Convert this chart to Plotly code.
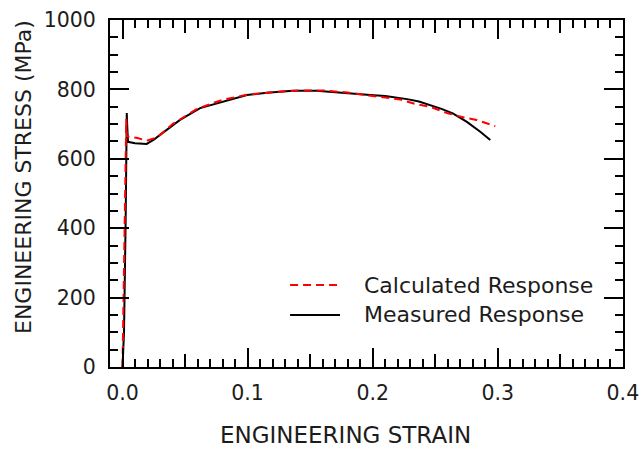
import plotly.graph_objects as go

# ---- data ----
measured_strain = [0.0, 0.0006, 0.0012, 0.0025, 0.0034, 0.0037, 0.0044, 0.010, 0.0193, 0.025,
                   0.030, 0.046, 0.062, 0.0835, 0.0995, 0.1155, 0.136, 0.155, 0.174, 0.198,
                   0.21, 0.22, 0.2275, 0.237, 0.246, 0.255, 0.264, 0.275, 0.286, 0.294]
measured_stress = [0, 85, 100, 420, 732, 700, 649, 645, 643, 655,
                   669, 712, 746, 769, 784, 790, 796, 796, 790, 784,
                   781, 777, 772, 765, 755, 744, 731, 707, 678, 654]

calc_strain = [0.0, 0.0025, 0.003, 0.0035, 0.006, 0.012, 0.019, 0.028, 0.040, 0.06,
               0.08, 0.10, 0.12, 0.14, 0.16, 0.18, 0.20, 0.222, 0.235, 0.246, 0.26,
               0.273, 0.283, 0.298]
calc_stress = [0, 700, 715, 665, 664, 660, 652, 662, 700, 745,
               770, 785, 792, 797, 797, 791, 781, 771, 757, 750, 731,
               719, 712, 694]

x_tickvals = [0.0, 0.1, 0.2, 0.3, 0.4]
x_ticktext = ["0.0", "0.1", "0.2", "0.3", "0.4"]
x_midticks = [0.05, 0.15, 0.25, 0.35]
y_tickvals = [0, 200, 400, 600, 800, 1000]
y_ticktext = ["0", "200", "400", "600", "800", "1000"]

legend_names = ["Calculated Response", "Measured Response"]
x_title = "ENGINEERING STRAIN"
y_title = "ENGINEERING STRESS (MPa)"

FONT = "DejaVu Sans, Liberation Sans, Arial, sans-serif"
TXT = "#1c1c1c"

fig = go.Figure()
fig.add_trace(go.Scatter(x=measured_strain, y=measured_stress, mode="lines",
                         line=dict(color="black", width=2), name=legend_names[1],
                         showlegend=False))
fig.add_trace(go.Scatter(x=calc_strain, y=calc_stress, mode="lines", xaxis="x2", yaxis="y",
                         line=dict(color="#ff0000", width=2, dash="8px,5px"),
                         name=legend_names[0], showlegend=False))

axis_common = dict(showgrid=False, zeroline=False, showline=True, linecolor="black",
                   linewidth=2, mirror="ticks", ticks="inside", tickcolor="black",
                   tickwidth=2, ticklen=19, ticklabeloverflow="allow", automargin=False,
                   tickfont=dict(family=FONT, size=20.5, color=TXT))

fig.update_layout(
    width=639, height=449,
    margin=dict(l=110, r=16, t=20, b=82),
    paper_bgcolor="white", plot_bgcolor="white",
    xaxis=dict(range=[-0.01, 0.4001], tickvals=x_tickvals, ticktext=x_ticktext,
               minor=dict(dtick=0.01, tick0=0, ticks="inside", ticklen=8,
                          tickwidth=2, tickcolor="black"),
               ticklabelstandoff=6, **axis_common),
    xaxis2=dict(range=[-0.01, 0.4001], overlaying="x", anchor="y", side="bottom",
                showgrid=False, zeroline=False, showline=False, mirror="ticks",
                ticks="inside", tickvals=x_midticks, ticklen=13, tickwidth=2,
                tickcolor="black", showticklabels=False, automargin=False),
    yaxis=dict(range=[0, 1000], tickvals=y_tickvals, ticktext=y_ticktext,
               minor=dict(dtick=50, tick0=0, ticks="inside", ticklen=8,
                          tickwidth=2, tickcolor="black"),
               ticklabelstandoff=8, **axis_common),
    showlegend=False,
)

# axis titles
fig.add_annotation(text=x_title, xref="paper", yref="paper", x=0.46, y=-0.196,
                   xanchor="center", yanchor="middle", showarrow=False,
                   font=dict(family=FONT, size=23, color=TXT))
fig.add_annotation(text=y_title, xref="paper", yref="paper", x=-0.1676, y=0.5476,
                   xanchor="center", yanchor="middle", showarrow=False, textangle=-90,
                   font=dict(family=FONT, size=22, color=TXT))

# legend (manual)
leg_y = [0.2363, 0.1499]
leg_styles = [dict(color="#ff0000", width=2, dash="8px,5px"), dict(color="black", width=2)]
for name, yy, st in zip(legend_names, leg_y, leg_styles):
    fig.add_shape(type="line", xref="paper", yref="paper", x0=0.351, x1=0.4484,
                  y0=yy, y1=yy, line=st)
    fig.add_annotation(text=name, xref="paper", yref="paper", x=0.4911, y=yy,
                       xanchor="left", yanchor="middle", showarrow=False,
                       font=dict(family=FONT, size=22, color=TXT))

fig.write_html("out.html")
